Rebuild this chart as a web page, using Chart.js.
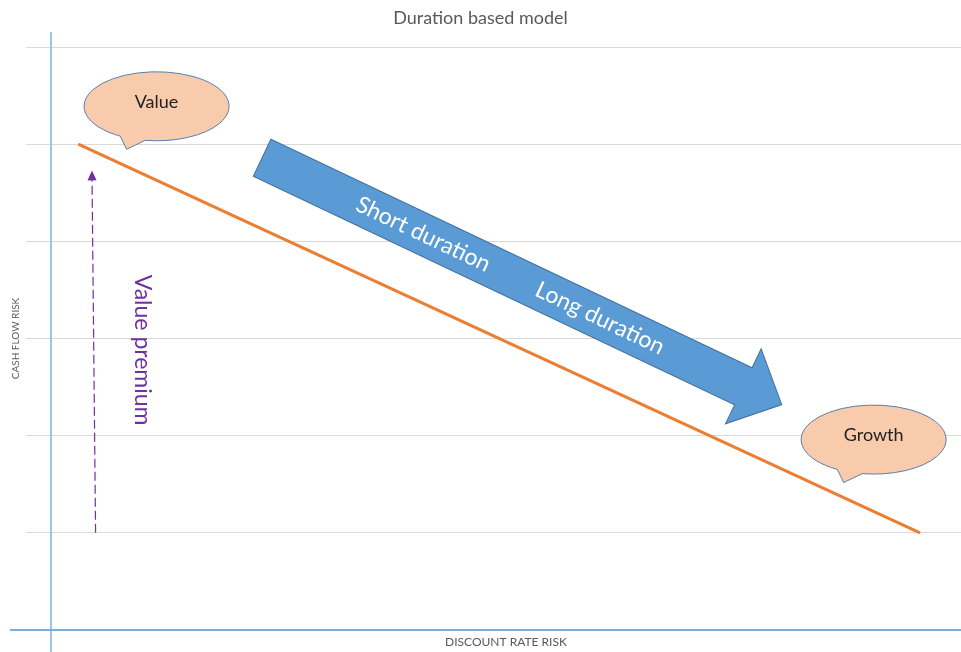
<!DOCTYPE html>
<html>
<head>
<meta charset="utf-8">
<title>Duration based model</title>
<script src="https://cdn.jsdelivr.net/npm/chart.js@4.4.1/dist/chart.umd.min.js"></script>
<style>
  html, body { margin: 0; padding: 0; background: #fff; }
</style>
</head>
<body>
<canvas id="myChart" width="961" height="652"></canvas>
<script>
(() => {
    "use strict";

    // Risk frontier (discount rate risk vs cash flow risk)
    const frontierX = [0.3, 9.55];
    const frontierY = [5, 1];

    // Dashed "value premium" arrow, bottom -> tip
    const premiumX = [0.49, 0.45];
    const premiumY = [1, 4.73];

    // Big duration arrow, tail centre -> tip
    const durationX = [2.32, 8.03];
    const durationY = [4.86, 2.32];
    const durationLabels = ["Short duration", "Long duration"];
    const durationAt = [0.31, 0.65];

    // Callouts
    const bubbleLabels = ["Value", "Growth"];
    const bubbleX = [1.16, 9.04];
    const bubbleY = [5.39, 1.96];

    const premiumLabel = "Value premium";
    const premiumLabelX = 1.0;
    const premiumLabelY = 2.88;

    const FONT = "Lato, 'Open Sans', sans-serif";
    const deg = Math.PI / 180;

    const overlays = {
        id: "overlays",
        beforeDatasetsDraw(chart) {
            const { ctx, chartArea: a } = chart;
            ctx.save();
            ctx.lineWidth = 2;
            ctx.strokeStyle = "#9dc3e6";
            ctx.beginPath();
            ctx.moveTo(a.left, a.top - 15);
            ctx.lineTo(a.left, chart.height);
            ctx.stroke();
            ctx.strokeStyle = "#7eaadc";
            ctx.beginPath();
            ctx.moveTo(10, a.bottom);
            ctx.lineTo(a.right, a.bottom);
            ctx.stroke();
            ctx.restore();
        },
        afterDatasetsDraw(chart) {
            const { ctx } = chart;
            const px = v => chart.scales.x.getPixelForValue(v);
            const py = v => chart.scales.y.getPixelForValue(v);

            // arrowhead on the dashed premium line
            ctx.save();
            const bx = px(premiumX[0]), by = py(premiumY[0]);
            const tx = px(premiumX[1]), ty = py(premiumY[1]);
            ctx.translate(tx, ty);
            ctx.rotate(Math.atan2(ty - by, tx - bx));
            ctx.fillStyle = "#7030a0";
            ctx.beginPath();
            ctx.moveTo(0, 0);
            ctx.lineTo(-10, -4.5);
            ctx.lineTo(-10, 4.5);
            ctx.closePath();
            ctx.fill();
            ctx.restore();

            // duration block arrow
            const x0 = px(durationX[0]), y0 = py(durationY[0]);
            const x1 = px(durationX[1]), y1 = py(durationY[1]);
            const len = Math.hypot(x1 - x0, y1 - y0);
            const sw = 20.5, hw = 41.5, hl = 42.5;
            ctx.save();
            ctx.translate(x0, y0);
            ctx.rotate(Math.atan2(y1 - y0, x1 - x0));
            ctx.beginPath();
            ctx.moveTo(0, -sw);
            ctx.lineTo(len - hl, -sw);
            ctx.lineTo(len - hl, -hw);
            ctx.lineTo(len, 0);
            ctx.lineTo(len - hl, hw);
            ctx.lineTo(len - hl, sw);
            ctx.lineTo(0, sw);
            ctx.closePath();
            ctx.fillStyle = "#5b9bd5";
            ctx.fill();
            ctx.lineWidth = 1;
            ctx.strokeStyle = "#41719c";
            ctx.stroke();
            ctx.fillStyle = "#ffffff";
            ctx.font = "23px " + FONT;
            ctx.textAlign = "center";
            ctx.textBaseline = "middle";
            durationLabels.forEach((t, i) => ctx.fillText(t, len * durationAt[i], 0));
            ctx.restore();

            // value premium label
            ctx.save();
            ctx.translate(px(premiumLabelX), py(premiumLabelY));
            ctx.rotate(Math.PI / 2);
            ctx.fillStyle = "#7030a0";
            ctx.font = "23px " + FONT;
            ctx.textAlign = "center";
            ctx.textBaseline = "middle";
            ctx.fillText(premiumLabel, 0, 0);
            ctx.restore();

            // speech bubbles
            const rx = 72.5, ry = 34.5;
            bubbleLabels.forEach((t, i) => {
                const cx = px(bubbleX[i]), cy = py(bubbleY[i]);
                ctx.save();
                ctx.beginPath();
                ctx.ellipse(cx, cy, rx, ry, 0, 120 * deg, 459 * deg);
                ctx.lineTo(cx - 30, cy + 43);
                ctx.closePath();
                ctx.fillStyle = "#f8cbad";
                ctx.fill();
                ctx.lineWidth = 1;
                ctx.strokeStyle = "#5a7fa8";
                ctx.stroke();
                ctx.fillStyle = "#222222";
                ctx.font = "18px " + FONT;
                ctx.textAlign = "center";
                ctx.textBaseline = "middle";
                ctx.fillText(t, cx, cy - 4);
                ctx.restore();
            });
        }
    };

    const ctx = document.getElementById("myChart").getContext("2d");
    // eslint-disable-next-line no-unused-vars
    const myChart = new Chart(ctx, {
        type: "scatter",
        data: {
            datasets: [{
                label: "Frontier",
                data: frontierX.map((x, i) => ({ x, y: frontierY[i] })),
                showLine: true,
                borderColor: "#ed7d31",
                borderWidth: 3,
                pointRadius: 0
            }, {
                label: "Value premium",
                data: premiumX.map((x, i) => ({ x, y: premiumY[i] })),
                showLine: true,
                borderColor: "#7030a0",
                borderWidth: 1.2,
                borderDash: [9, 4],
                pointRadius: 0
            }]
        },
        options: {
            responsive: false,
            animation: false,
            devicePixelRatio: 1,
            layout: { padding: 0 },
            plugins: {
                legend: { display: false },
                tooltip: { enabled: false },
                title: {
                    display: true,
                    text: "Duration based model",
                    color: "#595959",
                    font: { family: FONT, size: 18, weight: "normal" },
                    padding: { top: 7, bottom: 18.4 }
                }
            },
            scales: {
                x: {
                    type: "linear",
                    min: 0,
                    max: 10,
                    grid: { display: false },
                    border: { display: false },
                    ticks: { display: false },
                    title: {
                        display: true,
                        text: "DISCOUNT RATE RISK",
                        color: "#595959",
                        font: { family: FONT, size: 12 },
                        padding: { top: 0, bottom: 3 }
                    },
                    afterFit: s => { s.height = 22; }
                },
                y: {
                    min: 0,
                    max: 6,
                    ticks: { display: false, stepSize: 1 },
                    grid: { color: "#d9d9d9", lineWidth: 1, tickLength: 25 },
                    border: { display: false },
                    title: {
                        display: true,
                        text: "CASH FLOW RISK",
                        color: "#595959",
                        font: { family: FONT, size: 10 },
                        padding: { top: 10, bottom: 0 }
                    },
                    afterFit: s => { s.width = 51; }
                }
            }
        },
        plugins: [overlays]
    });
})();
</script>
</body>
</html>
